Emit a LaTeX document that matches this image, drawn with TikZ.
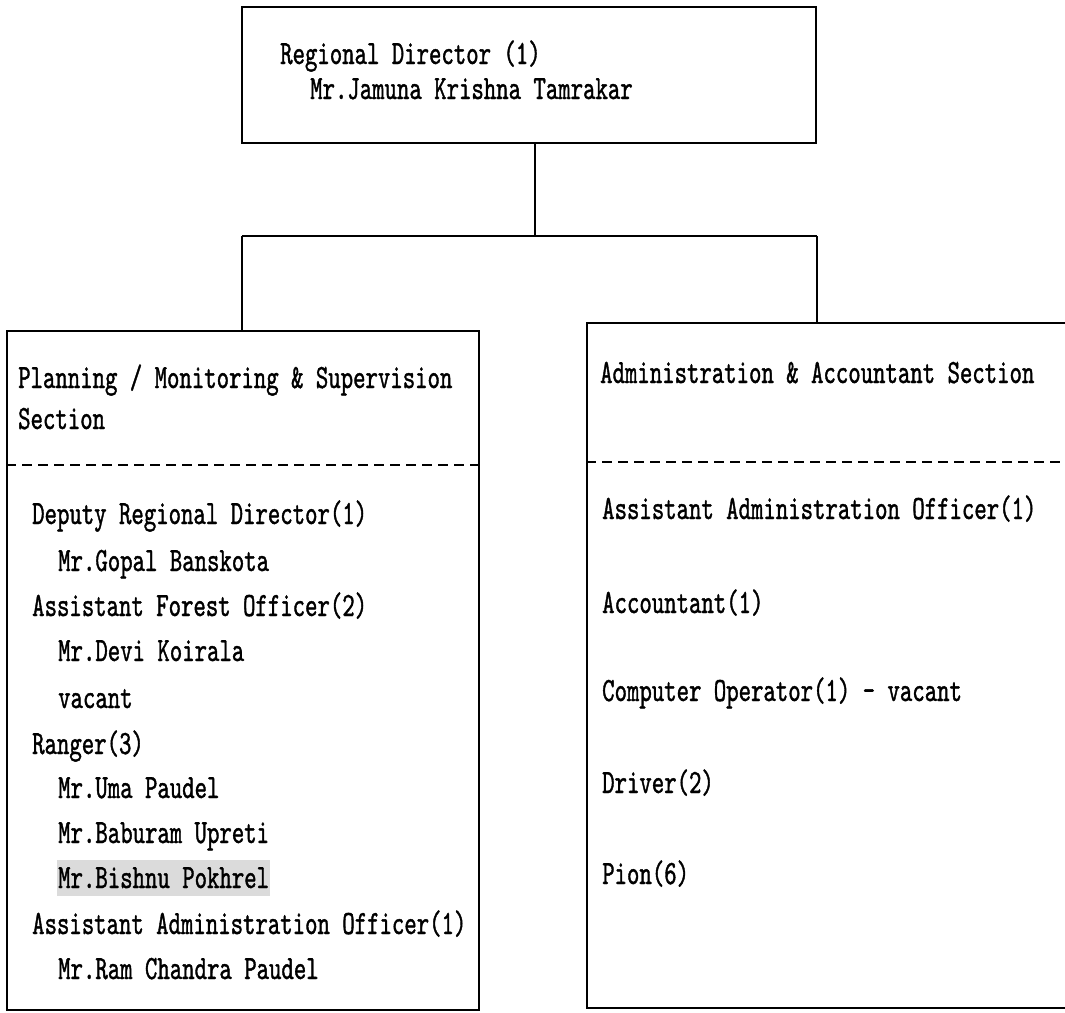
\documentclass[tikz,border=0pt]{standalone}
\usepackage{fontspec}
\newfontfamily\chartfont[FakeStretch=0.695,FakeBold=1.1]{lmmono10-regular.otf}
\begin{document}
\begin{tikzpicture}[x=1pt,y=-1pt,
  frame/.style={draw,line width=2pt,rectangle,inner sep=0pt},
  rule/.style={line width=1.9pt},
  sepline/.style={line width=1.4pt,dash pattern=on 10pt off 6pt},
  entry/.style={anchor=base west,inner sep=0pt,font=\chartfont\fontsize{34}{38}\selectfont}]
\useasboundingbox (0,0) rectangle (1065,1012);

% boxes
\node[frame,minimum width=574pt,minimum height=136pt] (head) at (529,75) {};
\node[frame,minimum width=472pt,minimum height=679pt] (plan) at (243,670.5) {};
\node[frame,minimum width=488pt,minimum height=685pt] (admin) at (831,665.5) {};

% dashed separators inside the section boxes
\coordinate (pd) at (0,465);
\coordinate (ad) at (0,462);
\draw[sepline] (plan.west |- pd) -- (plan.east |- pd);
\draw[sepline] (admin.west |- ad) -- (admin.east |- ad);

% connectors
\coordinate (trunk) at (535,236);
\coordinate (jl) at (242,236);
\coordinate (jr) at (817,236);
\draw[rule] (head.south -| trunk) -- (trunk);
\draw[rule] (jl) -- (jr);
\draw[rule] (jl) -- (jl |- plan.north);
\draw[rule] (jr) -- (jr |- admin.north);

% head office
\node[entry] (rd) at (280,64) {Regional Director (1)};
\node[entry] (rdn) at (310,99) {Mr.Jamuna Krishna Tamrakar};

% planning section
\node[entry] (ps1) at (18,388) {Planning / Monitoring \& Supervision};
\node[entry] (ps2) at (18,429) {Section};
\node[entry] (p1) at (32,524) {Deputy Regional Director(1)};
\node[entry] (p2) at (58,571) {Mr.Gopal Banskota};
\node[entry] (p3) at (32,616) {Assistant Forest Officer(2)};
\node[entry] (p4) at (58,661) {Mr.Devi Koirala};
\node[entry] (p5) at (58,708) {vacant};
\node[entry] (p6) at (32,754) {Ranger(3)};
\node[entry] (p7) at (58,798) {Mr.Uma Paudel};
\node[entry] (p8) at (58,843) {Mr.Baburam Upreti};
\fill[black!14] (57,860) rectangle (270,896);
\node[entry] (p9) at (58,888) {Mr.Bishnu Pokhrel};
\node[entry] (p10) at (32,934) {Assistant Administration Officer(1)};
\node[entry] (p11) at (58,979) {Mr.Ram Chandra Paudel};

% administration section
\node[entry] (as) at (600,383) {Administration \& Accountant Section};
\node[entry] (a1) at (602,519) {Assistant Administration Officer(1)};
\node[entry] (a2) at (602,613) {Accountant(1)};
\node[entry] (a3) at (602,701) {Computer Operator(1) - vacant};
\node[entry] (a4) at (602,793) {Driver(2)};
\node[entry] (a5) at (602,884) {Pion(6)};
\end{tikzpicture}
\end{document}
